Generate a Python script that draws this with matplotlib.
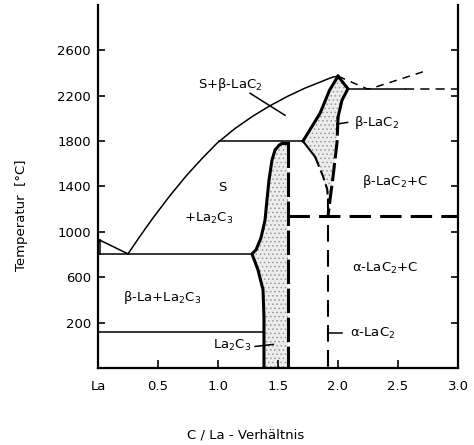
import numpy as np
import matplotlib.pyplot as plt

plt.rcParams['font.family'] = 'DejaVu Sans'
plt.rcParams['hatch.linewidth'] = 0.6

# Liquidus S / S+solid, from La side eutectic up to LaC2 melting point
liq_la_x = [0.0, 0.25]
liq_la_t = [935, 806]
liq_x = [0.25, 0.35, 0.46, 0.60, 0.74, 0.87, 0.99, 1.14, 1.29, 1.43, 1.58, 1.72, 1.85, 1.92, 1.96, 2.00]
liq_t = [806, 962, 1125, 1320, 1500, 1650, 1780, 1910, 2020, 2110, 2195, 2265, 2320, 2350, 2365, 2372]

# C side liquidus (dashed)
liq_c_x = [2.00, 2.24, 2.27, 2.72]
liq_c_t = [2372, 2262, 2262, 2415]

# invariant lines
eut_la_t = 806
eut_la_x = [0.0, 1.283]
low_t = 115
low_x = [0.0, 1.383]
peri_t = 1800
peri_x = [1.005, 1.708]
eut_c_t = 2262
eut_c_solid = [2.083, 2.56]
eut_c_dash = [2.56, 3.0]
ab_t = 1140
ab_x = [1.583, 3.0]

# La2C3 homogeneity range
la2c3_left_x = [1.383, 1.383, 1.375, 1.333, 1.283, 1.317, 1.358, 1.392, 1.408, 1.425, 1.45, 1.475, 1.51, 1.533]
la2c3_left_t = [-200, 250, 490, 666, 806, 842, 947, 1105, 1281, 1457, 1633, 1721, 1765, 1780]
la2c3_top_x = [1.533, 1.583]
la2c3_top_t = [1780, 1780]
la2c3_right_x = 1.583

# beta-LaC2 homogeneity range
blac2_up_x = [1.708, 1.85, 1.93, 2.00]
blac2_up_t = [1800, 2045, 2250, 2372]
blac2_low_x = [1.708, 1.81, 1.875, 1.91, 1.917]
blac2_low_t = [1800, 1660, 1490, 1375, 1280]
blac2_right_x = [2.00, 2.083, 2.033, 2.0, 1.992, 1.958, 1.933, 1.917]
blac2_right_t = [2372, 2262, 2160, 2010, 1790, 1480, 1280, 1140]
lac2_x = 1.917

fig = plt.figure(figsize=(4.74, 4.45), dpi=100)
ax = fig.add_axes([98 / 474, 1 - 368 / 445, 360 / 474, 363 / 445])
ax.set_xlim(0, 3.0)
ax.set_ylim(-200, 3000)

thin = 1.1
thick = 2.2

# shaded single phase fields
fx = la2c3_left_x + [la2c3_right_x, la2c3_right_x]
ft = la2c3_left_t + [1780, -200]
ax.fill(fx, ft, facecolor='#ececec', edgecolor='#999999', hatch='....', lw=0, zorder=1)
bx = blac2_up_x + blac2_right_x[1:] + blac2_low_x[::-1]
bt = blac2_up_t + blac2_right_t[1:] + blac2_low_t[::-1]
ax.fill(bx, bt, facecolor='#ececec', edgecolor='#999999', hatch='....', lw=0, zorder=1)

k = 'black'
ax.plot(liq_la_x, liq_la_t, color=k, lw=thin)
ax.plot(liq_x, liq_t, color=k, lw=thin)
ax.plot(liq_c_x, liq_c_t, color=k, lw=thin, dashes=(5, 4))
ax.plot(eut_la_x, [eut_la_t] * 2, color=k, lw=thin)
ax.plot(low_x, [low_t] * 2, color=k, lw=thin)
ax.plot(peri_x, [peri_t] * 2, color=k, lw=thin)
ax.plot(eut_c_solid, [eut_c_t] * 2, color=k, lw=thin)
ax.plot(eut_c_dash, [eut_c_t] * 2, color=k, lw=thin, dashes=(6, 4))
ax.plot(ab_x, [ab_t] * 2, color=k, lw=thick, dashes=(7, 3))

# small La transformations near the axis
ax.plot([0.02, 0.02], [806, 925], color=k, lw=thin)
ax.plot([0.0, 0.02], [905, 925], color=k, lw=thin)

ax.plot(la2c3_left_x, la2c3_left_t, color=k, lw=thick, solid_joinstyle='round')
ax.plot(la2c3_top_x, la2c3_top_t, color=k, lw=thick)
ax.plot([la2c3_right_x] * 2, [1780, -200], color=k, lw=thick, dashes=(8, 1.5))

ax.plot(blac2_up_x, blac2_up_t, color=k, lw=thick)
ax.plot(blac2_right_x[:4], blac2_right_t[:4], color=k, lw=thick)
ax.plot(blac2_right_x[3:], blac2_right_t[3:], color=k, lw=thick, dashes=(6, 1.5))
ax.plot(blac2_low_x[:2], blac2_low_t[:2], color=k, lw=thin + 0.4)
ax.plot(blac2_low_x[1:], blac2_low_t[1:], color=k, lw=thin + 0.4, dashes=(5, 2))
ax.plot([lac2_x] * 2, [1280, -200], color=k, lw=thin + 0.4, dashes=(8, 4))

# leader lines
ax.plot([1.267, 1.558], [2222, 2028], color=k, lw=thin)
ax.plot([1.31, 1.46], [-10, 8], color=k, lw=thin)
ax.plot([1.99, 2.08], [1950, 1965], color=k, lw=thin)
ax.plot([lac2_x, 2.03], [110, 110], color=k, lw=thin)

fs = 9.5
ax.text(1.10, 2300, 'S+β-LaC$_2$', fontsize=fs, ha='center', va='center')
ax.text(1.033, 1387, 'S', fontsize=fs, ha='center', va='center')
ax.text(0.925, 1114, '+La$_2$C$_3$', fontsize=fs, ha='center', va='center')
ax.text(0.533, 420, 'β-La+La$_2$C$_3$', fontsize=fs, ha='center', va='center')
ax.text(1.117, 0, 'La$_2$C$_3$', fontsize=fs, ha='center', va='center')
ax.text(2.32, 1960, 'β-LaC$_2$', fontsize=fs, ha='center', va='center')
ax.text(2.475, 1440, 'β-LaC$_2$+C', fontsize=fs, ha='center', va='center')
ax.text(2.39, 675, 'α-LaC$_2$+C', fontsize=fs, ha='center', va='center')
ax.text(2.29, 103, 'α-LaC$_2$', fontsize=fs, ha='center', va='center')

xt = [0, 0.5, 1.0, 1.5, 2.0, 2.5, 3.0]
xt_labels = ['La', '0.5', '1.0', '1.5', '2.0', '2.5', '3.0']
yt = [200, 600, 1000, 1400, 1800, 2200, 2600]
ax.set_xticks(xt)
ax.set_xticklabels(xt_labels)
ax.set_yticks(yt)
ax.tick_params(direction='in', length=5, width=1.2, labelsize=fs, right=True)
ax.tick_params(axis='x', pad=9, length=6)
ax.tick_params(axis='y', pad=5)
ax.spines['top'].set_visible(False)
for s in ['left', 'right', 'bottom']:
    ax.spines[s].set_linewidth(1.6)

fig.text(22 / 474, 1 - 215 / 445, 'Temperatur  [°C]', rotation=90, fontsize=fs,
         ha='center', va='center')
fig.text(246 / 474, 1 - 435 / 445, 'C / La - Verhältnis', fontsize=fs,
         ha='center', va='center')

fig.savefig('out.png', dpi=100)
